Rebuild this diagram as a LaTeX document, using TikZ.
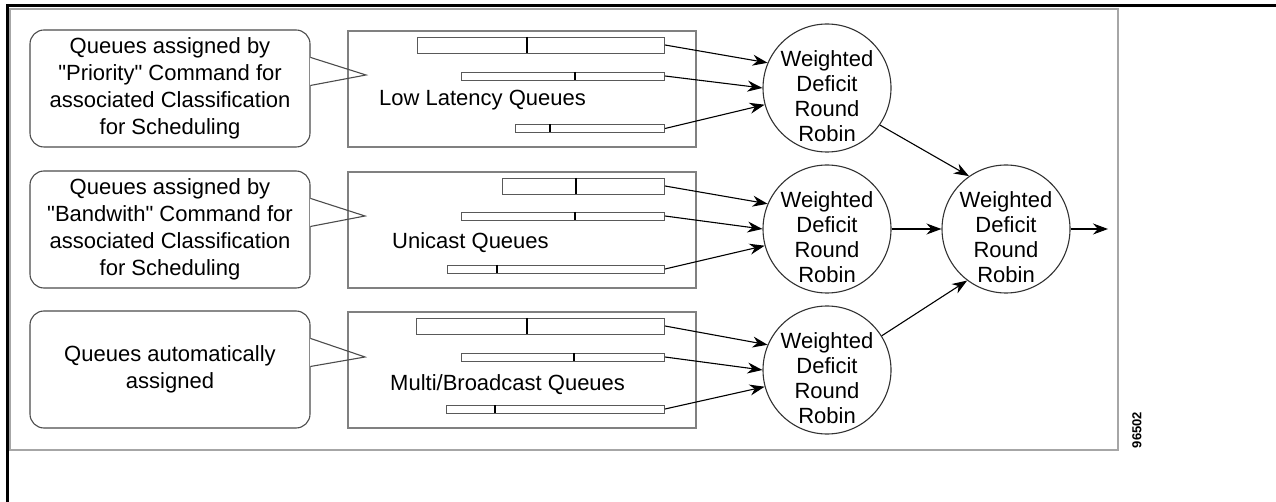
\documentclass[tikz,border=0pt]{standalone}
\usepackage{fontspec}
\setmainfont{Liberation Sans}
\usetikzlibrary{arrows.meta}

\tikzset{
  qbox/.style={draw=gray, line width=1.2pt, minimum width=348pt, minimum height=116pt, inner sep=0pt},
  qbar/.style={draw=black!65, line width=0.9pt, minimum height=8pt, inner sep=0pt, anchor=east},
  qdiv/.style={black, line width=1.4pt},
  callout/.style={draw=black!70, line width=1.1pt, rounded corners=14pt, minimum width=280pt, minimum height=117pt, inner sep=0pt},
  wdrr/.style={circle, draw=black!80, line width=1.1pt, minimum size=128pt, inner sep=0pt},
  ltxt/.style={font=\fontsize{22}{27}\selectfont, align=center, inner sep=0pt},
  ctxt/.style={font=\fontsize{22}{25}\selectfont, align=center, inner sep=0pt},
  arr/.style={-{Stealth[length=15pt,width=11pt]}, line width=1.1pt},
}

\begin{document}
\begin{tikzpicture}[x=1pt,y=-1pt]
\useasboundingbox (0,0) rectangle (1276,502);
\draw [line width=3pt] (7,502) -- (7,6) -- (1276,6);
\draw [gray!70, line width=1.5pt] (10,9) rectangle (1118,450);

\node [callout, ltxt] (cl1) at (170,88.5) {Queues assigned by\\\textquotedbl Priority\textquotedbl{} Command for\\associated Classification\\for Scheduling};
\node [callout, ltxt] (cl2) at (170,229.5) {Queues assigned by\\\textquotedbl Bandwith\textquotedbl{} Command for\\associated Classification\\for Scheduling};
\node [callout, ltxt] (cl3) at (170,369.5) {Queues automatically\\assigned};

\node [qbox] (box1) at (522,89) {};
\node [qbox] (box2) at (522,230) {};
\node [qbox] (box3) at (522,370) {};

% pointers of the callouts
\fill [white] ([yshift=-28.6pt,xshift=-1pt]cl1.north east) rectangle ([yshift=-55.4pt,xshift=1.5pt]cl1.north east);
\draw [black!70, line width=1.1pt] ([yshift=-28pt]cl1.north east) -- (366,75) -- ([yshift=-56pt]cl1.north east);
\fill [white] ([yshift=-28.6pt,xshift=-1pt]cl2.north east) rectangle ([yshift=-55.4pt,xshift=1.5pt]cl2.north east);
\draw [black!70, line width=1.1pt] ([yshift=-28pt]cl2.north east) -- (365,216) -- ([yshift=-56pt]cl2.north east);
\fill [white] ([yshift=-28.6pt,xshift=-1pt]cl3.north east) rectangle ([yshift=-55.4pt,xshift=1.5pt]cl3.north east);
\draw [black!70, line width=1.1pt] ([yshift=-28pt]cl3.north east) -- (365,357) -- ([yshift=-56pt]cl3.north east);

\node [ltxt, anchor=west] (llq) at (379,100) {Low Latency Queues};
\node [ltxt, anchor=west] (ucq) at (392,243) {Unicast Queues};
\node [ltxt, anchor=west] (mbq) at (390,385) {Multi/Broadcast Queues};

% queues
\node [qbar, minimum width=247pt, minimum height=16pt] (q11) at (665,45) {};
\node [qbar, minimum width=203pt] (q12) at (665,76) {};
\node [qbar, minimum width=149pt] (q13) at (665,128.5) {};
\node [qbar, minimum width=162pt, minimum height=16pt] (q21) at (665,186) {};
\node [qbar, minimum width=203pt] (q22) at (665,216) {};
\node [qbar, minimum width=217pt] (q23) at (665,269) {};
\node [qbar, minimum width=248pt, minimum height=16pt] (q31) at (665,326) {};
\node [qbar, minimum width=203pt] (q32) at (665,357) {};
\node [qbar, minimum width=218pt] (q33) at (665,409) {};
\draw [qdiv] (527,37) -- (527,53);
\draw [qdiv] (575,72) -- (575,80);
\draw [qdiv] (550,124.5) -- (550,132.5);
\draw [qdiv] (576,178) -- (576,194);
\draw [qdiv] (575,212) -- (575,220);
\draw [qdiv] (497,265) -- (497,273);
\draw [qdiv] (527,318) -- (527,334);
\draw [qdiv] (574,353) -- (574,361);
\draw [qdiv] (495,405) -- (495,413);

% schedulers
\node [wdrr] (w1) at (827,88) {};
\node [wdrr] (w2) at (827,229) {};
\node [wdrr] (w3) at (827,370) {};
\node [wdrr] (w4) at (1006,229) {};
\node [ctxt] (w1t) at ([yshift=-8pt]w1.center) {Weighted\\Deficit\\Round\\Robin};
\node [ctxt] (w2t) at ([yshift=-8pt]w2.center) {Weighted\\Deficit\\Round\\Robin};
\node [ctxt] (w3t) at ([yshift=-8pt]w3.center) {Weighted\\Deficit\\Round\\Robin};
\node [ctxt] (w4t) at ([yshift=-8pt]w4.center) {Weighted\\Deficit\\Round\\Robin};

\draw [arr] (q11.east) -- (w1.157);
\draw [arr] (q12.east) -- (w1.180);
\draw [arr] (q13.east) -- (w1.195);
\draw [arr] (q21.east) -- (w2.157);
\draw [arr] (q22.east) -- (w2.180);
\draw [arr] (q23.east) -- (w2.195);
\draw [arr] (q31.east) -- (w3.157);
\draw [arr] (q32.east) -- (w3.180);
\draw [arr] (q33.east) -- (w3.195);
\draw [arr] (w1.-35) -- (w4.125);
\draw [arr] (w2.east) -- (w4.west);
\draw [arr] (w3.32) -- (w4.-127);
\coordinate (out) at (1108,229);
\draw [arr] (w4.east) -- (out);

\node [rotate=90, font=\bfseries\fontsize{13}{13}\selectfont, inner sep=0pt] (fig) at (1137,430) {96502};
\end{tikzpicture}
\end{document}
